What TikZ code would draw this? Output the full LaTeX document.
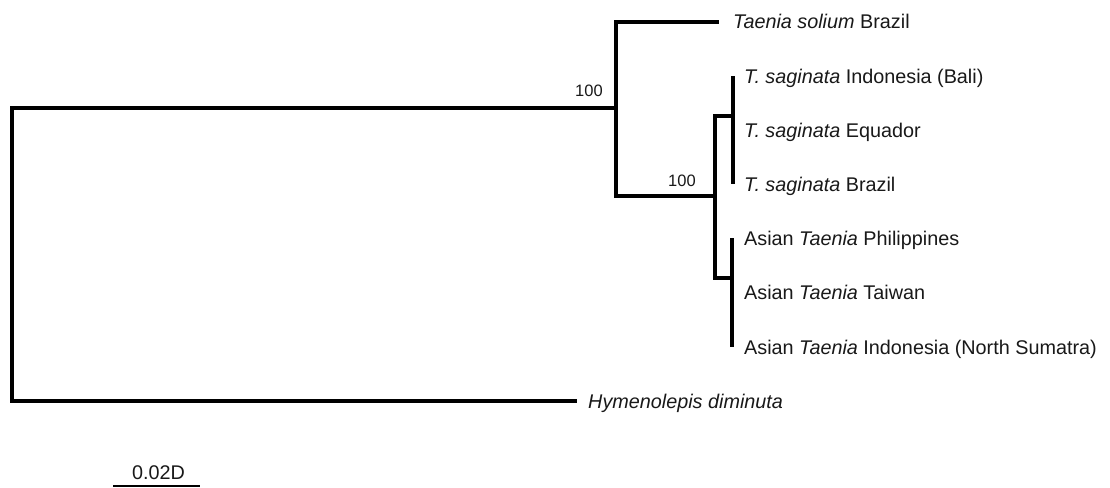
\documentclass[tikz,border=0pt]{standalone}
\usepackage{fontspec}
\setmainfont{Liberation Sans}
\begin{document}
\begin{tikzpicture}[x=1pt,y=-1pt,
  branch/.style={line width=3.2pt,black},
  taxon/.style={anchor=base west,inner sep=0pt,text=black!90,font=\fontsize{19.8}{22}\selectfont},
  support/.style={anchor=base west,inner sep=0pt,text=black!90,font=\fontsize{16.5}{19}\selectfont}]
\useasboundingbox[fill=white] (0,0) rectangle (1110,487);

% internal nodes and branch tips
\coordinate (root) at (12,255);
\coordinate (A)    at (616,108);
\coordinate (B)    at (715,196);
\coordinate (sag)  at (733,116);
\coordinate (asi)  at (732,278);
\coordinate (tsol) at (719,22);
\coordinate (hym)  at (577,401);
\coordinate (s1) at (733,76);
\coordinate (s3) at (733,184);
\coordinate (a1) at (732,238);
\coordinate (a3) at (732,347);

% branches
\draw[branch] (root) |- (A);
\draw[branch] (root) |- (hym);
\draw[branch] (A) |- (tsol);
\draw[branch] (A) |- (B);
\draw[branch] (B) |- (sag);
\draw[branch] (B) |- (asi);
\draw[branch] (s1) -- (s3);
\draw[branch] (a1) -- (a3);

% taxon labels
\node[taxon] (Ltsol) at (733,29)  {\textit{Taenia solium} Brazil};
\node[taxon] (Lbali) at (744,83)  {\textit{T. saginata} Indonesia (Bali)};
\node[taxon] (Lequ)  at (744,137) {\textit{T. saginata} Equador};
\node[taxon] (Lbra)  at (744,191) {\textit{T. saginata} Brazil};
\node[taxon] (Lphi)  at (744,245) {Asian \textit{Taenia} Philippines};
\node[taxon] (Ltai)  at (744,299) {Asian \textit{Taenia} Taiwan};
\node[taxon] (Lsum)  at (744,354) {Asian \textit{Taenia} Indonesia (North Sumatra)};
\node[taxon] (Lhym)  at (588,408) {\textit{Hymenolepis diminuta}};

% bootstrap support
\node[support] (bA) at (575,96)  {100};
\node[support] (bB) at (668,186) {100};

% scale bar
\coordinate (sb0) at (113,486);
\coordinate (sb1) at (200,486);
\draw[line width=2.4pt] (sb0) -- (sb1);
\node[taxon] (sbl) at (132,479) {0.02D};
\end{tikzpicture}
\end{document}
